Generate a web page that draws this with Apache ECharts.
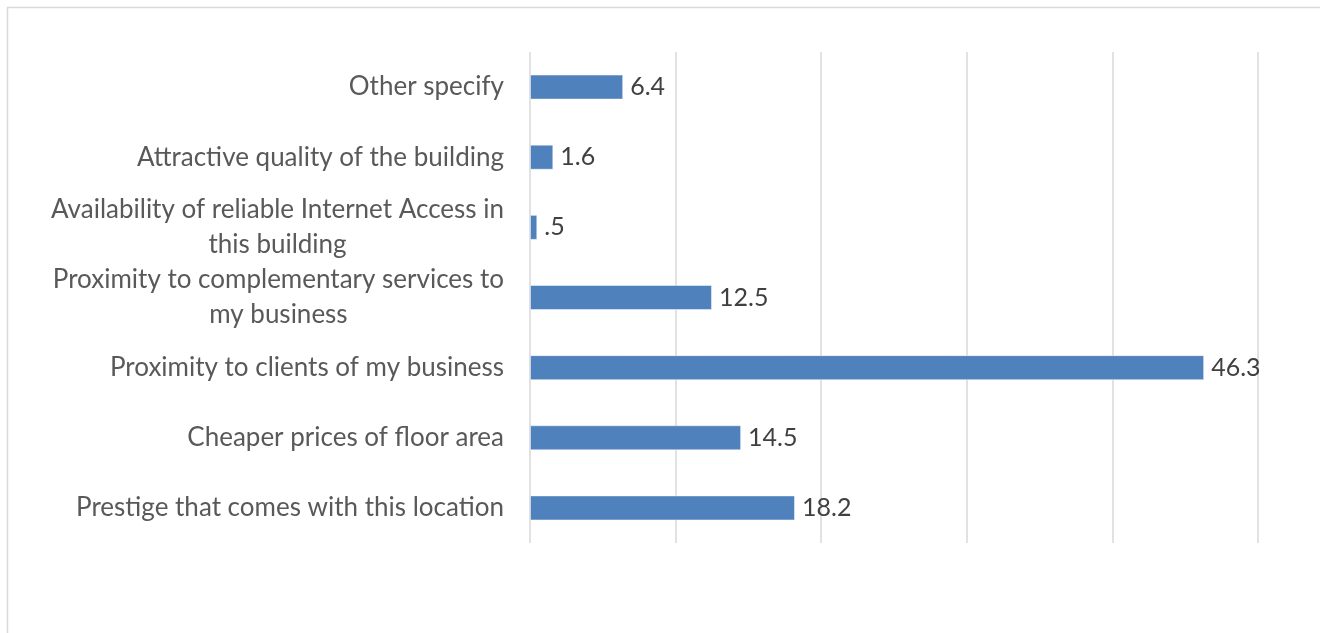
<!DOCTYPE html>
<html>
<head>
<meta charset="utf-8">
<script src="https://cdn.jsdelivr.net/npm/echarts@6/dist/echarts.min.js"></script>
<style>
  html, body { margin: 0; padding: 0; background: #ffffff; }
  #chart { width: 1320px; height: 633px; }
</style>
</head>
<body>
<div id="chart"></div>
<script>
// Reasons for choosing the location (percent of respondents), listed top to bottom
const categories = [
  'Other specify',
  'Attractive quality of the building',
  'Availability of reliable Internet Access in\nthis building',
  'Proximity to complementary services to\nmy business',
  'Proximity to clients of my business',
  'Cheaper prices of floor area',
  'Prestige that comes with this location'
];
const values = [6.4, 1.6, 0.5, 12.5, 46.3, 14.5, 18.2];

// Value axis ticks (gridlines only, no labels shown)
const axisMin = 0;
const axisMax = 50;
const axisStep = 10;

const chart = echarts.init(document.getElementById('chart'), null, { renderer: 'canvas' });

// Wrap each line of a category label in a centred rich segment so
// multi-line labels are centred on their own block, block right-aligned.
function wrapLines(text) {
  return text.split('\n').map(function (line) { return '{c|' + line + '}'; }).join('\n');
}

// Values below 1 are printed without the leading zero (".5")
function formatValue(v) {
  return String(v).replace(/^0\./, '.');
}

chart.setOption({
  backgroundColor: '#ffffff',
  animation: false,
  graphic: [{
    type: 'rect',
    silent: true,
    shape: { x: 7.5, y: 7.5, width: 1400, height: 700 },
    style: { fill: 'none', stroke: '#d9d9d9', lineWidth: 1.5 }
  }],
  grid: { left: 530, right: 62, top: 52, bottom: 90, containLabel: false },
  xAxis: {
    type: 'value',
    min: axisMin,
    max: axisMax,
    interval: axisStep,
    axisLine: { show: false },
    axisTick: { show: false },
    axisLabel: { show: false },
    splitLine: { show: true, lineStyle: { color: '#d9d9d9', width: 1.5 } }
  },
  yAxis: {
    type: 'category',
    inverse: true,
    data: categories,
    axisLine: { show: false },
    axisTick: { show: false },
    splitLine: { show: false },
    axisLabel: {
      margin: 26,
      align: 'right',
      color: '#595959',
      fontFamily: 'Lato',
      fontSize: 26,
      lineHeight: 35,
      formatter: wrapLines,
      rich: {
        c: { align: 'center', color: '#595959', fontFamily: 'Lato', fontSize: 26, lineHeight: 35 }
      }
    }
  },
  series: [{
    type: 'bar',
    data: values,
    barWidth: 25,
    itemStyle: {
      color: '#4f81bd',
      borderColor: 'rgba(255,255,255,0.45)',
      borderWidth: 1
    },
    label: {
      show: true,
      position: 'right',
      distance: 7,
      color: '#404040',
      fontFamily: 'Lato',
      fontSize: 25,
      formatter: function (p) { return formatValue(p.value); }
    }
  }]
});
</script>
</body>
</html>
